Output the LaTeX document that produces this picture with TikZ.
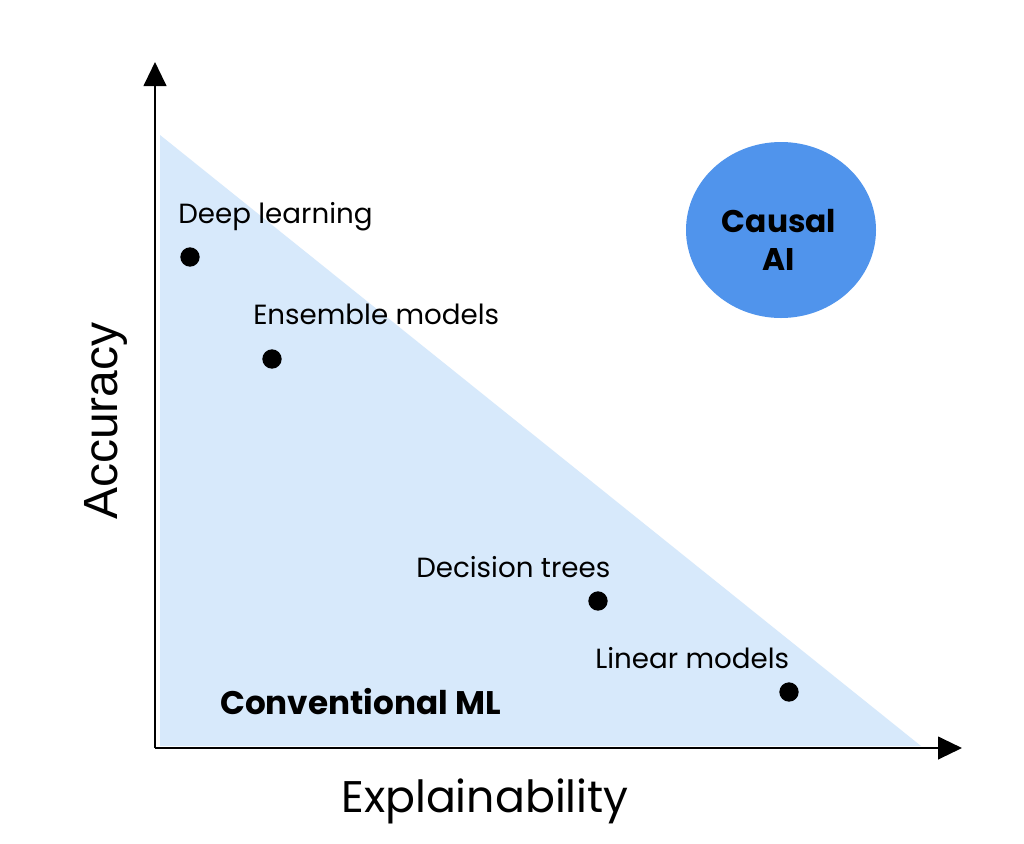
\documentclass[tikz,border=0pt]{standalone}
\usepackage{fontspec}
\setmainfont{Poppins}
\newfontfamily\axisfont{Liberation Sans}
\usetikzlibrary{arrows.meta,shapes.geometric}
\definecolor{lightfill}{HTML}{D7E9FB}
\definecolor{causalblue}{HTML}{5094EC}
\tikzset{
  axis/.style={line width=1.6pt, -{Triangle[length=18pt,width=17pt]}},
  dot/.style={circle, fill=black, inner sep=0pt, minimum size=14.5pt},
  lbl/.style={anchor=west, inner sep=0pt, font=\fontsize{20.8}{24}\selectfont},
}
\begin{document}
\begin{tikzpicture}[x=0.75pt,y=-0.75pt]
\useasboundingbox (0,0) rectangle (1024,843);
\fill[white] (0,0) rectangle (1024,843);
% triangle region
\fill[lightfill] (160,135) -- (160,746) -- (921,746) -- cycle;
% axes
\coordinate (origin) at (155,748);
\coordinate (ytip) at (155,62);
\coordinate (xtip) at (962,748);
\draw[axis] (origin) -- (ytip);
\draw[axis] (origin) -- (xtip);
% causal AI
\node[ellipse, fill=causalblue, minimum width=142.5pt, minimum height=132pt, inner sep=0pt] (causal) at (781,230) {};
\node[align=center, inner sep=0pt, font=\fontsize{23.5}{29}\selectfont\bfseries] (causaltext) at (779,240) {Causal\\AI};
% dots
\node[dot] (dl) at (190,257) {};
\node[dot] (em) at (272,359) {};
\node[dot] (dt) at (598,601) {};
\node[dot] (lm) at (789,692) {};
% labels
\node[lbl] (dllbl) at (178,217) {Deep learning};
\node[lbl] (emlbl) at (253,314) {Ensemble models};
\node[lbl] (dtlbl) at (416,567) {Decision trees};
\node[lbl] (lmlbl) at (595,658) {Linear models};
\node[anchor=west, inner sep=0pt, font=\fontsize{24.5}{28}\selectfont\bfseries] (conv) at (220,702) {Conventional ML};
% axis labels
\node[inner sep=0pt, font=\fontsize{33.2}{40}\selectfont] (xlabel) at (485,801) {Explainability};
\node[inner sep=0pt, rotate=90, font=\axisfont\fontsize{36}{40}\selectfont] (ylabel) at (106,421) {Accuracy};
\end{tikzpicture}
\end{document}
